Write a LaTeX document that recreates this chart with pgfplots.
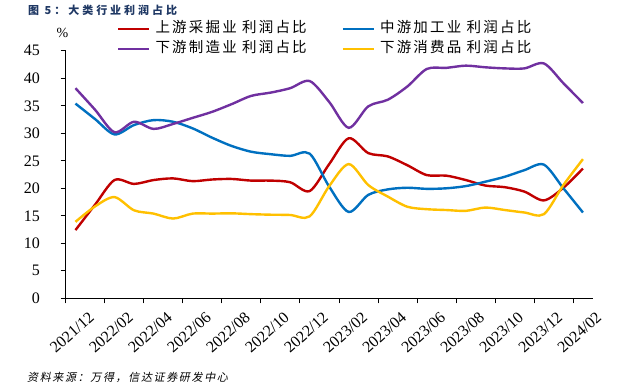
\documentclass[border=0pt]{standalone}
\usepackage{pgfplots}
\pgfplotsset{compat=1.18}
\usepackage{fontspec}
\setmainfont{Liberation Serif}
\newfontfamily\cjk{Noto Sans CJK SC}
\newfontfamily\cjkleg{Noto Sans CJK SC}[LetterSpace=15]
\newfontfamily\cjktitle{Noto Sans CJK SC}[LetterSpace=27]
\newfontfamily\cjksrc{Noto Sans CJK SC}[LetterSpace=15,FakeSlant=0.2]
\definecolor{cred}{RGB}{192,0,0}
\definecolor{cblue}{RGB}{0,112,192}
\definecolor{cpurple}{RGB}{112,48,160}
\definecolor{cyellow}{RGB}{255,192,0}
\definecolor{ctitle}{RGB}{31,56,100}
\begin{document}
\begin{tikzpicture}
\useasboundingbox (0,0) rectangle (619bp,390bp);
\begin{axis}[
  at={(65.7bp,91.7bp)}, anchor=south west,
  scale only axis, width=527bp, height=247.5bp,
  xmin=-0.5, xmax=26.5, ymin=0, ymax=45,
  axis x line*=bottom, axis y line*=left,
  axis line style={black, line width=0.9bp},
  tick style={black, line width=0.9bp},
  tick align=outside, major tick length=5bp,
  xtick={-0.5,1.5,...,25.5}, xticklabels={},
  extra x ticks={0,2,...,26},
  extra x tick labels={2021/12,2022/02,2022/04,2022/06,2022/08,2022/10,2022/12,2023/02,2023/04,2023/06,2023/08,2023/10,2023/12,2024/02},
  extra x tick style={major tick length=0pt},
  xticklabel style={rotate=42, anchor=east, inner sep=0pt, xshift=1bp, yshift=-23bp, font=\fontsize{16bp}{18bp}\selectfont},
  ytick={0,5,...,45},
  yticklabel style={anchor=east, inner sep=0pt, xshift=-20.7bp, font=\fontsize{16bp}{18bp}\selectfont},
  /pgf/number format/assume math mode=true,
  clip=false,
  legend columns=2,
  legend cell align=left,
  legend style={at={(0.0973,1.1184)}, anchor=north west, draw=none, fill=none, inner sep=0pt,
    font=\cjkleg\fontsize{14.5bp}{17bp}\selectfont,
    nodes={inner sep=0pt, anchor=west, text height=11bp, text depth=4bp},
    row sep=5bp,
    /tikz/every odd column/.append style={column sep=5bp},
    /tikz/every even column/.append style={column sep=35bp}},
  legend image code/.code={\draw[#1] (0bp,0bp) -- (31bp,0bp);},
]
\addplot[cred, line width=2.4bp, smooth] coordinates {
(0,12.4) (1,17.0) (2,21.5) (3,20.8) (4,21.5) (5,21.8) (6,21.3) (7,21.6) (8,21.7) (9,21.4) (10,21.4) (11,21.1) (12,19.5) (13,24.4) (14,29.1) (15,26.4) (16,25.8) (17,24.2) (18,22.4) (19,22.3) (20,21.5) (21,20.5) (22,20.2) (23,19.4) (24,17.8) (25,20.1) (26,23.6)};
\addlegendentry{上游采掘业 利润占比}
\addplot[cblue, line width=2.4bp, smooth] coordinates {
(0,35.4) (1,32.6) (2,29.8) (3,31.5) (4,32.4) (5,32.1) (6,30.9) (7,29.2) (8,27.7) (9,26.65) (10,26.2) (11,25.9) (12,26.3) (13,20.3) (14,15.7) (15,18.8) (16,19.8) (17,20.1) (18,19.9) (19,20.0) (20,20.4) (21,21.2) (22,22.1) (23,23.3) (24,24.3) (25,20.0) (26,15.6)};
\addlegendentry{中游加工业 利润占比}
\addplot[cpurple, line width=2.4bp, smooth] coordinates {
(0,38.2) (1,34.3) (2,30.2) (3,32.1) (4,30.8) (5,31.7) (6,32.8) (7,33.9) (8,35.3) (9,36.8) (10,37.4) (11,38.2) (12,39.5) (13,35.7) (14,31.0) (15,34.9) (16,36.1) (17,38.5) (18,41.7) (19,41.9) (20,42.3) (21,42.0) (22,41.8) (23,41.8) (24,42.7) (25,39.1) (26,35.5)};
\addlegendentry{下游制造业 利润占比}
\addplot[cyellow, line width=2.4bp, smooth] coordinates {
(0,13.9) (1,16.7) (2,18.4) (3,16.0) (4,15.4) (5,14.5) (6,15.4) (7,15.4) (8,15.45) (9,15.3) (10,15.2) (11,15.15) (12,14.9) (13,20.4) (14,24.4) (15,20.6) (16,18.5) (17,16.65) (18,16.2) (19,16.05) (20,15.9) (21,16.5) (22,16.05) (23,15.6) (24,15.3) (25,20.6) (26,25.3)};
\addlegendentry{下游消费品 利润占比}
\end{axis}
\node[anchor=west, inner sep=0pt, text=ctitle] at (28bp,380bp) {\cjktitle\bfseries\fontsize{11bp}{13bp}\selectfont 图 5：大类行业利润占比};
\node[inner sep=0pt] at (62.5bp,357bp) {\fontsize{14bp}{16bp}\selectfont\%};
\node[anchor=west, inner sep=0pt] at (27bp,13bp) {\cjksrc\fontsize{11bp}{13bp}\selectfont 资料来源：万得，信达证券研发中心};
\end{tikzpicture}
\end{document}
